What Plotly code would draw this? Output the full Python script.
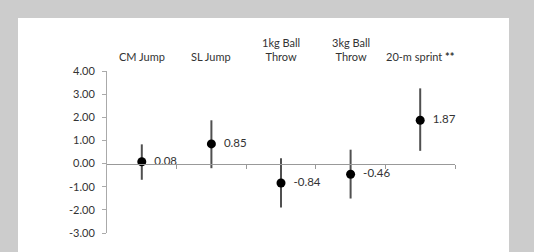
import plotly.graph_objects as go

categories = ["CM Jump", "SL Jump", "1kg Ball<br>Throw", "3kg Ball<br>Throw", "20-m sprint <b>**</b>"]
values = [0.08, 0.85, -0.84, -0.46, 1.87]
ci_upper = [0.83, 1.87, 0.23, 0.60, 3.25]
ci_lower = [-0.70, -0.20, -1.90, -1.51, 0.55]
y_ticks = [4, 3, 2, 1, 0, -1, -2, -3]

xpos = [i + 0.5 for i in range(len(values))]
err_plus = [u - v for u, v in zip(ci_upper, values)]
err_minus = [v - l for v, l in zip(values, ci_lower)]

FONT = "Lato"
TXT = "#333333"

fig = go.Figure()
fig.add_trace(go.Scatter(
    x=xpos, y=values, mode="markers+text",
    text=[f"  {v:.2f}" for v in values], textposition="middle right",
    textfont=dict(family=FONT, size=11.5, color=TXT),
    marker=dict(color="black", size=9),
    error_y=dict(type="data", symmetric=False, array=err_plus, arrayminus=err_minus,
                 color="#505050", thickness=2, width=0),
    cliponaxis=False, showlegend=False,
))

for x, c in zip(xpos, categories):
    fig.add_annotation(x=x, y=1, xref="x", yref="paper", text=c, showarrow=False,
                       yanchor="bottom", yshift=6, font=dict(family=FONT, size=11, color=TXT))

# white panel
fig.add_shape(type="rect", xref="paper", yref="paper",
              x0=(18 - 107) / 348, x1=(509 - 107) / 348,
              y0=-0.2, y1=1 + (71 - 18) / 162,
              fillcolor="white", line=dict(width=0), layer="below")

fig.update_layout(
    width=534, height=252,
    margin=dict(l=107, r=79, t=71, b=19),
    paper_bgcolor="#cccccc", plot_bgcolor="rgba(0,0,0,0)",
    font=dict(family=FONT, size=11, color=TXT),
    xaxis=dict(range=[0, 5], anchor="free", position=3 / 7, showline=True, linecolor="#999999",
               linewidth=1, ticks="outside", ticklen=4, tickcolor="#999999",
               tickvals=[1, 2, 3, 4, 5], showticklabels=False, showgrid=False, zeroline=False),
    yaxis=dict(range=[-3, 4], showline=True, linecolor="#aaaaaa", linewidth=1,
               ticks="outside", ticklen=4, tickcolor="#aaaaaa", ticklabelstandoff=5,
               tickvals=y_ticks, ticktext=[f"{t:.2f}" for t in y_ticks],
               showgrid=False, zeroline=False, tickfont=dict(family=FONT, size=11, color=TXT)),
)

fig.write_html("out.html")
